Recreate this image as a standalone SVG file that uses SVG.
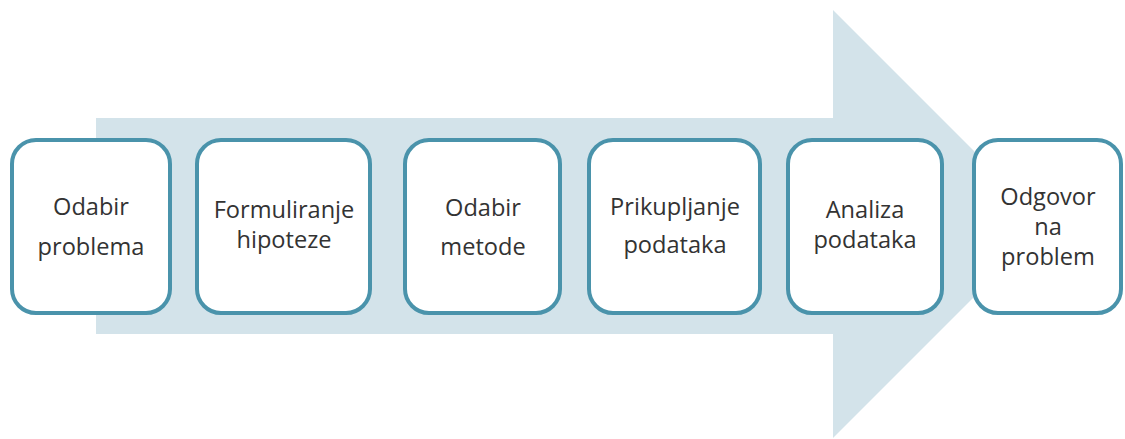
<svg xmlns="http://www.w3.org/2000/svg" width="1125" height="439" viewBox="0 0 1125 439">
  <style>
    .box { fill: #ffffff; stroke: #4a93ab; stroke-width: 4; }
    .lbl { font-family: "Open Sans", "Noto Sans", sans-serif; font-size: 23.6px; fill: #333333; text-anchor: middle; }
  </style>
  <rect width="1125" height="439" fill="#ffffff"/>
  <g id="connectors">
    <polygon points="96,118 833,118 833,10 1047,224 833,438 833,334 96,334" fill="#d3e3ea"/>
  </g>
  <g id="n1">
    <rect class="box" x="12" y="140" width="158" height="173" rx="24"/>
    <text class="lbl" x="91" y="215">Odabir</text>
    <text class="lbl" x="91" y="255">problema</text>
  </g>
  <g id="n2">
    <rect class="box" x="197" y="140" width="173" height="173" rx="24"/>
    <text class="lbl" x="284" y="218">Formuliranje</text>
    <text class="lbl" x="284" y="248">hipoteze</text>
  </g>
  <g id="n3">
    <rect class="box" x="405" y="140" width="155" height="173" rx="24"/>
    <text class="lbl" x="483" y="216">Odabir</text>
    <text class="lbl" x="483" y="255">metode</text>
  </g>
  <g id="n4">
    <rect class="box" x="589" y="140" width="171" height="173" rx="24"/>
    <text class="lbl" x="675" y="215">Prikupljanje</text>
    <text class="lbl" x="675" y="253">podataka</text>
  </g>
  <g id="n5">
    <rect class="box" x="788" y="140" width="154" height="173" rx="24"/>
    <text class="lbl" x="865" y="218">Analiza</text>
    <text class="lbl" x="865" y="248">podataka</text>
  </g>
  <g id="n6">
    <rect class="box" x="974" y="140" width="147" height="173" rx="24"/>
    <text class="lbl" x="1048" y="205">Odgovor</text>
    <text class="lbl" x="1048" y="235">na</text>
    <text class="lbl" x="1048" y="265">problem</text>
  </g>
</svg>
